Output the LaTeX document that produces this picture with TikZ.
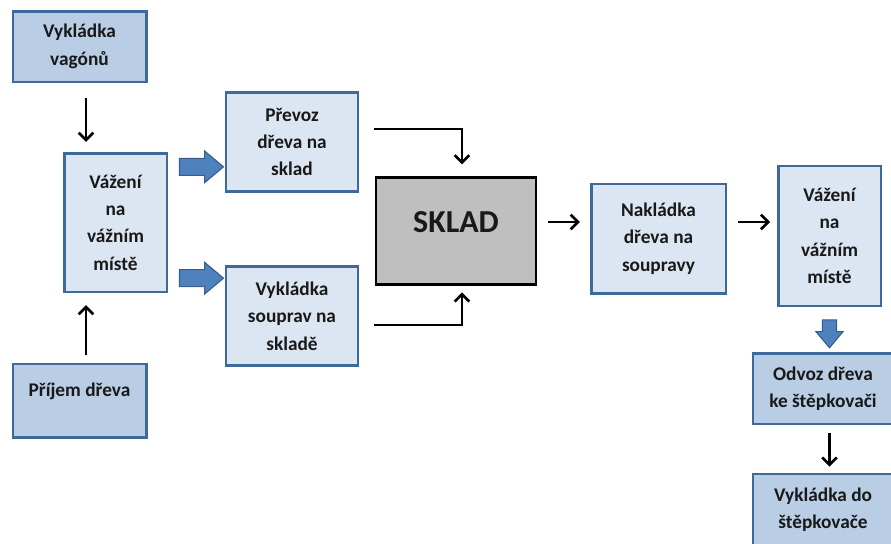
\documentclass[tikz,border=0pt]{standalone}
\usepackage{fontspec}
\setmainfont{Carlito}
\usetikzlibrary{arrows.meta,calc,shapes.arrows,positioning}
\definecolor{boxline}{RGB}{62,105,155}
\definecolor{boxfill}{RGB}{220,230,242}
\definecolor{boxdark}{RGB}{185,205,229}
\definecolor{arrowfill}{RGB}{79,129,189}
\definecolor{arrowline}{RGB}{56,93,138}
\definecolor{skladfill}{RGB}{191,191,191}

\begin{document}
\begin{tikzpicture}[x=0.75pt, y=-0.75pt, >={Straight Barb[length=5.5pt,width=11pt]},
    box/.style={draw=boxline, fill=boxfill, line width=2pt, align=center,
      font=\bfseries\fontsize{14.5}{20.5}\selectfont, text=black!90, inner sep=2pt},
    darkbox/.style={box, fill=boxdark},
    flow/.style={->, line width=2pt},
    fatarrow/.style={single arrow, draw=arrowline, fill=arrowfill, line width=0.8pt,
      minimum height=33pt, inner xsep=0pt, inner ysep=6pt, single arrow head extend=5.5pt,
      single arrow tip angle=80}]
  \useasboundingbox (0,0) rectangle (891,543);
  % boxes
  \node [darkbox, minimum width=100pt, minimum height=53pt] (VV) at (79.5,46.5) {Vykládka\\vagónů};
  \node [box, minimum width=77pt, minimum height=104pt] (VA) at (115.5,222.5) {Vážení\\na\\vážním\\místě};
  \node [darkbox, minimum width=100pt, minimum height=55pt, text depth=16pt] (PD) at (79.5,400.5) {Příjem dřeva};
  \node [box, minimum width=99pt, minimum height=74pt] (PR) at (292,142) {Převoz\\dřeva na\\sklad};
  \node [box, minimum width=99pt, minimum height=74pt] (VS) at (292,316) {Vykládka\\souprav na\\skladě};
  \node [box, draw=black, fill=skladfill, minimum width=120pt, minimum height=80pt,
         font=\bfseries\fontsize{24}{28}\selectfont, text depth=13pt] (SK) at (456,231) {SKLAD};
  \node [box, minimum width=101pt, minimum height=82pt] (NA) at (658.5,238.5) {Nakládka\\dřeva na\\soupravy};
  \node [box, minimum width=77pt, minimum height=105pt] (VB) at (829.5,236) {Vážení\\na\\vážním\\místě};
  \node [darkbox, minimum width=105pt, minimum height=53pt] (OD) at (823,388.5) {Odvoz dřeva\\ke štěpkovači};
  \node [darkbox, minimum width=105pt, minimum height=54pt] (VD) at (823,510) {Vykládka do\\štěpkovače};

  % thin arrows
  \coordinate (a1) at ($(VV.south)+(6.5,0)$);
  \coordinate (a2) at ($(PD.north)+(6.5,0)$);
  \draw [flow, shorten <=11pt, shorten >=7.5pt] (a1) -- (a1 |- VA.north);
  \draw [flow, shorten <=6pt, shorten >=9pt] (a2) -- (a2 |- VA.south);
  \coordinate (b1) at ($(PR.east)+(0,-13)$);
  \coordinate (b2) at ($(VS.east)+(0,9)$);
  \coordinate (s1) at ($(SK.north)+(6,0)$);
  \coordinate (s2) at ($(SK.south)+(6,0)$);
  \draw [flow, shorten <=11pt, shorten >=9pt] (b1) -| (s1);
  \draw [flow, shorten <=11pt, shorten >=5pt] (b2) -| (s2);
  \coordinate (c1) at ($(SK.east)+(0,-9)$);
  \coordinate (c2) at ($(NA.east)+(0,-16.5)$);
  \draw [flow, shorten <=8pt, shorten >=7.5pt] (c1) -- (c1 -| NA.west);
  \draw [flow, shorten <=8pt, shorten >=5pt] (c2) -- (c2 -| VB.west);
  \coordinate (d1) at ($(OD.south)+(6.5,0)$);
  \draw [flow, shorten <=6pt, shorten >=4.5pt] (d1) -- (d1 |- VD.north);

  % block arrows
  \path ($(VA.north east)+(0,15)$) -- ($(VA.north east -| PR.west)+(0,15)$) node [midway, fatarrow] {};
  \path ($(VA.south east)+(0,-15)$) -- ($(VA.south east -| VS.west)+(0,-15)$) node [midway, fatarrow] {};
  \path (VB.south) -- (VB.south |- OD.north) node [midway, fatarrow, rotate=-90, minimum height=21pt,
        inner ysep=4.9pt, single arrow head extend=4.9pt] {};
\end{tikzpicture}
\end{document}
